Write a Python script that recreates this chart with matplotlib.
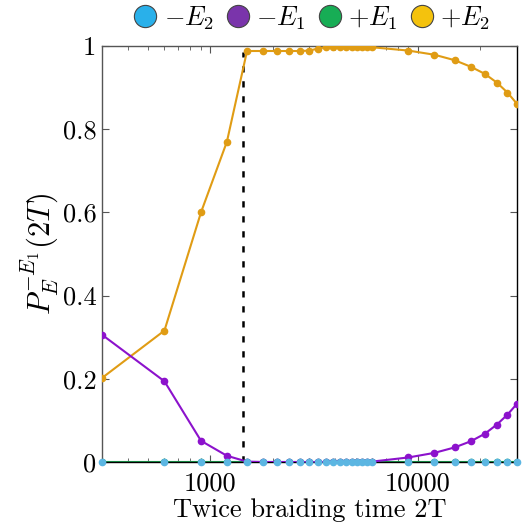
import matplotlib
matplotlib.use("Agg")
import matplotlib.pyplot as plt
from matplotlib.lines import Line2D
from matplotlib.ticker import FixedLocator, FixedFormatter, NullFormatter, LogLocator

plt.rcParams['font.family'] = 'cmr10'
plt.rcParams['mathtext.fontset'] = 'cm'
plt.rcParams['axes.formatter.use_mathtext'] = True

# braiding times 2T
times = [300, 600, 900, 1200, 1500, 1800, 2100, 2400, 2700, 3000, 3300, 3600,
         3900, 4200, 4500, 4800, 5100, 5400, 5700, 6000,
         9000, 12000, 15000, 18000, 21000, 24000, 27000, 30000]

# probabilities
p_minus_e2 = [0.0] * 28
p_plus_e1 = [0.0] * 28
p_minus_e1 = [0.306, 0.194, 0.051, 0.015, 0.001, 0.0, 0.0, 0.0, 0.0, 0.0, 0.0, 0.0,
              0.0, 0.0, 0.0, 0.0, 0.0, 0.0, 0.0, 0.001,
              0.011, 0.022, 0.035, 0.050, 0.068, 0.090, 0.114, 0.140]
p_plus_e2 = [0.202, 0.316, 0.600, 0.770, 0.988, 0.988, 0.988, 0.988, 0.988, 0.989,
             0.994, 0.997, 0.998, 0.998, 0.998, 0.998, 0.998, 0.997, 0.997, 0.997,
             0.989, 0.979, 0.966, 0.950, 0.933, 0.912, 0.888, 0.861]

t_cut = 1440

labels = [r'$-E_2$', r'$-E_1$', r'$+E_1$', r'$+E_2$']
line_colors = ['#5cb6e2', '#8c12cc', '#1ca552', '#e09c14']
ball_colors = ['#29b0ea', '#7a34ab', '#17ad55', '#f4c20d']

fig = plt.figure(figsize=(5.23, 5.27), dpi=100)
ax = fig.add_axes([0.195, 0.1233, 0.7935, 0.7894])

ax.plot(times, p_plus_e1, '-o', color=line_colors[2], lw=1.5, ms=4.5, zorder=2)
ax.plot(times, p_plus_e2, '-o', color=line_colors[3], lw=1.5, ms=4.5, zorder=3)
ax.plot(times, p_minus_e1, '-o', color=line_colors[1], lw=1.5, ms=4.5, zorder=4)
ax.plot(times, p_minus_e2, 'o', color=line_colors[0], ms=4.5, zorder=5, clip_on=False)
ax.vlines(t_cut, 0, 0.985, colors='black', linestyles=(0, (2.5, 3.5)), lw=1.8, zorder=1)

ax.set_xscale('log')
ax.set_xlim(300, 30000)
ax.set_ylim(0, 1)
ax.xaxis.set_major_locator(FixedLocator([1000, 10000]))
ax.xaxis.set_major_formatter(FixedFormatter(['1000', '10000']))
ax.xaxis.set_minor_locator(LogLocator(base=10, subs=range(2, 10)))
ax.xaxis.set_minor_formatter(NullFormatter())
yt = [0, 0.2, 0.4, 0.6, 0.8, 1]
ax.yaxis.set_major_locator(FixedLocator(yt))
ax.yaxis.set_major_formatter(FixedFormatter(['0', '0.2', '0.4', '0.6', '0.8', '1']))

ax.tick_params(which='both', direction='in', top=True, right=True, labelsize=19,
               color='#555555')
ax.tick_params(which='major', length=5, pad=4)
ax.tick_params(axis='x', which='major', pad=7)
ax.tick_params(which='minor', length=3)
for s in ax.spines.values():
    s.set_color('#555555')
    s.set_linewidth(1.0)
ax.spines['bottom'].set_color('black')
ax.spines['right'].set_color('black')

ax.set_xlabel('Twice braiding time 2T', fontsize=19, labelpad=2)
ax.set_ylabel(r'$P_E^{-E_1}(2T)$', fontsize=22, labelpad=2)

handles = [Line2D([], [], ls='none', marker='o', ms=16, mfc=c, mec='#444444', mew=0.8)
           for c in ball_colors]
fig.legend(handles, labels, loc='center', bbox_to_anchor=(0.593, 0.966), ncol=4,
           frameon=False, fontsize=19, handletextpad=0.1, columnspacing=0.3,
           handlelength=1.2, borderpad=0)

fig.savefig('out.png', dpi=100)
